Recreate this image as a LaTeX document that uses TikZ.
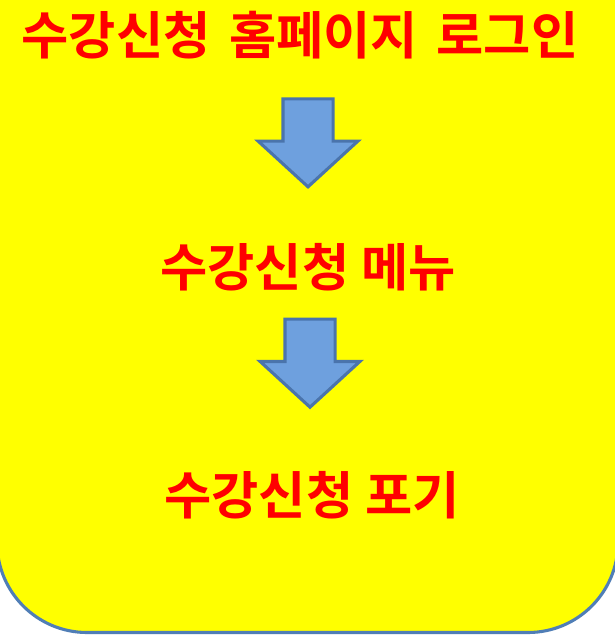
\documentclass[tikz,border=0pt]{standalone}
\usepackage{fontspec}
\setmainfont{Noto Sans CJK KR}[BoldFont={* Bold}]
\newfontfamily\titlefont{Noto Sans CJK KR Bold}[WordSpace=1.6]
\usetikzlibrary{shapes.arrows, positioning}
\definecolor{boxyellow}{RGB}{255,255,0}
\definecolor{boxline}{RGB}{80,126,182}
\definecolor{arrowfill}{RGB}{110,160,222}
\definecolor{arrowline}{RGB}{74,116,172}
\tikzstyle{label} = [
    inner sep=0pt,
    text=red,
    font=\fontsize{36.5}{40}\selectfont\bfseries
]
\tikzstyle{downarrow} = [
    single arrow,
    shape border rotate=270,
    minimum height=2.2cm,
    minimum width=2.4cm,
    single arrow head extend=0.62cm,
    single arrow tip angle=95,
    inner sep=0.5875cm,
    fill=arrowfill,
    draw=arrowline,
    line width=2.2pt
]

\begin{document}
\begin{tikzpicture}[x=0.025cm, y=-0.025cm]

\clip (0,0) rectangle (615,635);
\fill[white] (0,0) rectangle (615,635);

% background box, top and sides run off the picture
\draw[fill=boxyellow, draw=boxline, line width=2.2pt, rounded corners=2.25cm]
    (-3,-150) rectangle (618,632.5);

\node (login) [label, font=\fontsize{36.5}{40}\titlefont] at (300,35) {수강신청 홈페이지 로그인};
\node (arrowA) [downarrow, below=0.95cm of login, xshift=0.2cm] {};
\node (menu)  [label, below=1.35cm of arrowA] {수강신청 메뉴};
\node (arrowB) [downarrow, below=0.66cm of menu, xshift=0.05cm] {};
\node (cancel) [label, below=1.55cm of arrowB, xshift=0.05cm] {수강신청 포기};

\end{tikzpicture}
\end{document}
